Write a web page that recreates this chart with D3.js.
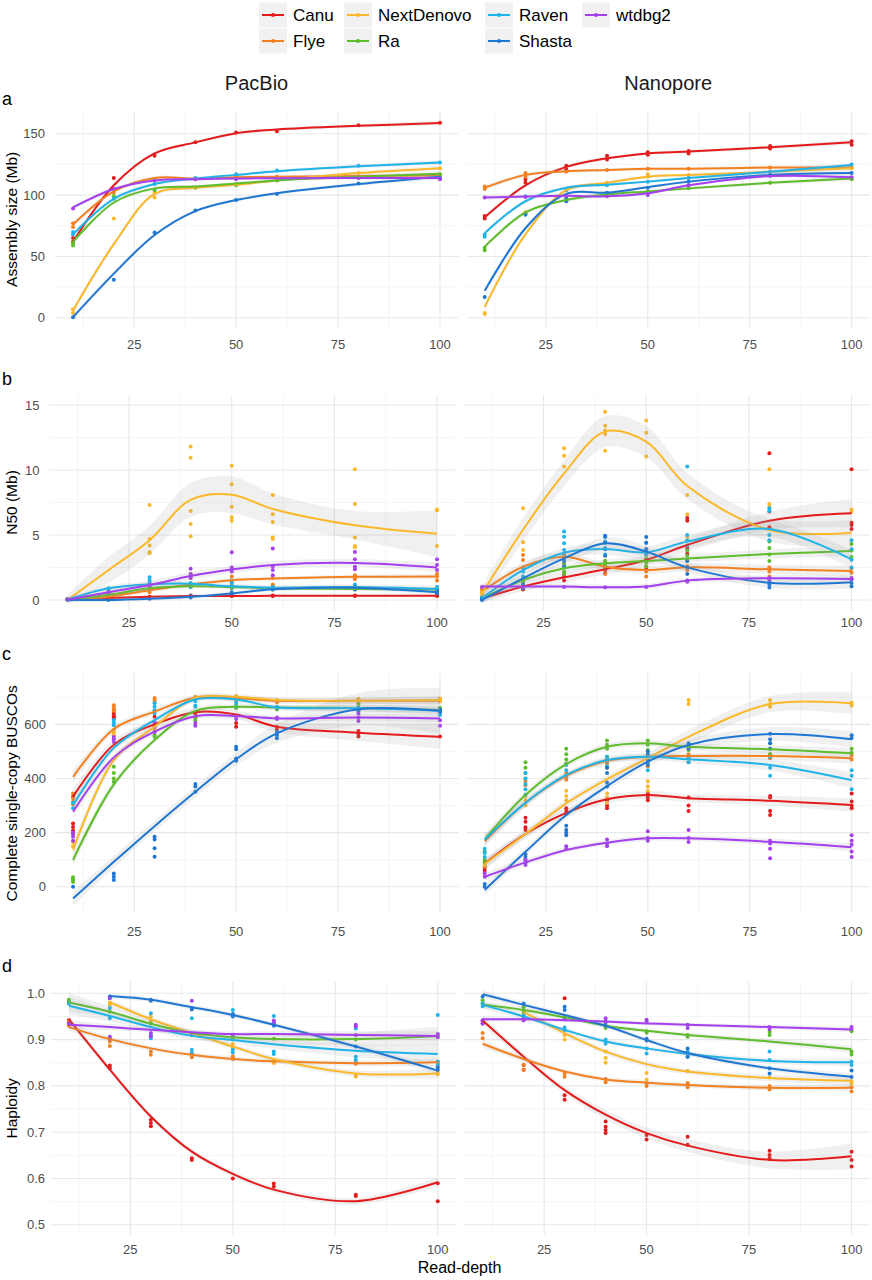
<!DOCTYPE html>
<html><head><meta charset="utf-8">
<script src="https://cdn.jsdelivr.net/npm/d3@7"></script>
<style>
body{margin:0;background:#fff;}
text{font-family:"Liberation Sans",Arial,Helvetica,sans-serif;}
</style>
</head><body>
<svg id="chart" width="872" height="1280"></svg>
<script>
// ---------------- DATA ----------------
const depths = [10, 20, 30, 40, 50, 60, 80, 100];
const assemblers = ["Canu", "Flye", "NextDenovo", "Ra", "Raven", "Shasta", "wtdbg2"];
const colors = ["#e41a1c", "#f5801f", "#fbb829", "#5dbd2a", "#1eb4ea", "#1f77d4", "#a53ff0"];
const platforms = ["PacBio", "Nanopore"];
const xTicks = [25, 50, 75, 100];
const xMinor = [12.5, 37.5, 62.5, 87.5];

// (a) Assembly size (Mb) - PacBio
const sizePacFit = [
  [62, 108, 134, 143, 150.5, 153.5, 156.5, 158.7],
  [76, 103, 114, 113.5, 114.5, 115, 115.5, 116],
  [6, 60, 101, 106, 108.5, 112, 118, 122],
  [62, 94, 105.5, 107, 109.5, 112, 115, 117.5],
  [68, 97, 109, 113.5, 116.5, 119.5, 123.5, 126.5],
  [0.5, 36, 67.5, 87, 96, 101.5, 109, 115],
  [90, 105, 112, 113, 113.5, 113.8, 114, 114]
];
const sizePacSe = [
  [2, 1.5, 1.5, 1.2, 1.2, 1.2, 1.5, 2],
  [2, 1.5, 1.5, 1.2, 1.2, 1.2, 1.5, 2],
  [2.5, 2, 1.5, 1.2, 1.2, 1.2, 1.5, 2],
  [2, 1.5, 1.5, 1.2, 1.2, 1.2, 1.5, 2],
  [2, 1.5, 1.5, 1.2, 1.2, 1.2, 1.5, 2],
  [2.5, 2, 1.5, 1.2, 1.2, 1.2, 1.5, 2],
  [2, 1.5, 1.5, 1.2, 1.2, 1.2, 1.5, 2]
];
const sizePacPts = [
  [[62, 65], [114], [132], [143], [151], [152], [157], [159]],
  [[74, 77], [102], [113], [113], [115], [115], [115], [116]],
  [[4, 7], [81], [98, 102], [106], [109], [112], [118], [122]],
  [[59, 61], [99], [104], [106], [108], [112], [115], [117]],
  [[68, 70], [97], [109], [114], [117], [120], [124], [126.5]],
  [[0.5], [31], [69.5], [87.5], [96], [101], [109.5], [114]],
  [[89], [105], [112], [113], [113], [114], [114], [113]]
];

// (a) Assembly size (Mb) - Nanopore
const sizeNanoFit = [
  [82, 108, 123, 130, 134, 135.5, 139, 143],
  [106, 116.5, 119.5, 120.5, 121.5, 121.5, 122.5, 122.5],
  [9, 68, 104, 110, 115, 116.5, 119, 122],
  [58, 86, 96, 100.5, 103, 105.5, 110, 113.5],
  [69, 95, 106, 108.5, 111, 114, 119, 124.5],
  [22, 73, 101, 102, 106.5, 111, 116.5, 118],
  [98, 98.8, 99.4, 99, 101.5, 108, 115.5, 114.5]
];
const sizeNanoSe = [
  [2, 1.5, 1.5, 1.2, 1.2, 1.2, 1.5, 2],
  [2, 1.5, 1.5, 1.2, 1.2, 1.2, 1.5, 2],
  [2.5, 2, 1.5, 1.2, 1.2, 1.2, 1.5, 2],
  [2, 1.5, 1.5, 1.2, 1.2, 1.2, 1.5, 2],
  [2, 1.5, 1.5, 1.2, 1.2, 1.2, 1.5, 2],
  [2.5, 2, 1.5, 1.2, 1.2, 1.2, 1.5, 2],
  [2, 1.5, 1.5, 1.2, 1.2, 1.2, 1.5, 2]
];
const sizeNanoPts = [
  [[81, 83], [110, 113], [121, 124], [129, 132], [133, 135], [134, 136], [138, 140], [141, 144]],
  [[105, 107], [115, 118], [119], [120.5], [121.5], [121.5], [122.5], [122.5]],
  [[3, 4], [86], [104], [110], [115, 117], [116.5], [119], [122]],
  [[55, 57], [85], [97], [101], [103], [105.5], [110], [113]],
  [[66, 68], [99], [104], [108], [111], [114], [119], [125]],
  [[17], [84], [95, 97], [102], [106], [111], [116.5], [118]],
  [[98], [98.5], [99.5], [99], [100], [108], [115.5], [114.5]]
];

// (b) N50 (Mb) - PacBio
const n50PacFit = [
  [0.02, 0.15, 0.25, 0.3, 0.3, 0.32, 0.33, 0.33],
  [0.02, 0.25, 0.75, 1.2, 1.52, 1.65, 1.78, 1.8],
  [0.0, 2.3, 4.6, 7.7, 8.1, 7.0, 5.75, 5.1],
  [0.02, 0.4, 0.9, 1.05, 1.0, 0.9, 0.85, 0.8],
  [0.02, 0.9, 1.2, 1.25, 1.05, 0.95, 1.0, 0.85],
  [0.0, 0.0, 0.1, 0.25, 0.5, 0.82, 0.95, 0.6],
  [0.02, 0.6, 1.15, 1.85, 2.35, 2.7, 2.85, 2.5]
];
const n50PacSe = [
  [0.1, 0.1, 0.1, 0.1, 0.1, 0.1, 0.1, 0.12],
  [0.15, 0.15, 0.15, 0.15, 0.15, 0.15, 0.15, 0.2],
  [0.4, 1.0, 1.1, 1.3, 1.4, 1.2, 1.1, 1.8],
  [0.15, 0.15, 0.15, 0.15, 0.15, 0.15, 0.15, 0.2],
  [0.2, 0.2, 0.2, 0.2, 0.2, 0.2, 0.2, 0.25],
  [0.15, 0.15, 0.15, 0.15, 0.15, 0.15, 0.15, 0.2],
  [0.2, 0.25, 0.3, 0.3, 0.3, 0.3, 0.3, 0.35]
];
const n50PacPts = [
  [[0.05], [0.15], [0.25], [0.3, 0.35], [0.3, 0.35], [0.3, 0.35], [0.3, 0.35], [0.3, 0.35]],
  [[0.05], [0.3, 0.2], [0.8, 0.6], [2.0, 1.7, 1.2], [1.8, 1.5, 1.3], [1.7, 1.2, 1.1], [1.9, 1.7, 1.6], [2.0, 1.8, 1.5]],
  [[0.05], [0.8, 0.5], [7.3, 4.7, 4.2, 3.7, 3.6], [11.8, 10.95, 6.85, 5.85, 4.9], [10.33, 8.9, 7.18, 6.36, 6.1], [8.08, 6.6, 6.0, 4.8, 4.7], [10.05, 7.38, 4.8, 4.15, 4.05], [6.97, 6.9, 4.15]],
  [[0.05], [0.5, 0.3], [1.0, 0.8], [1.1, 1.0], [1.1, 0.9], [1.0, 0.8], [0.9, 0.8], [0.9, 0.8]],
  [[0.05], [0.9, 0.7], [1.75, 1.5, 1.3, 1.1], [1.3, 1.0], [1.5, 1.3, 1.0], [1.0, 0.9], [1.2, 1.0, 0.9], [1.0, 0.8, 0.7]],
  [[0.0], [0.0, 0.05], [0.1], [0.2, 0.3], [0.4, 0.6], [0.8, 0.9], [1.0, 0.9, 0.8], [0.5, 0.7]],
  [[0.05], [0.6, 0.5], [1.2, 1.0], [2.4, 2.0, 1.7], [3.67, 2.5, 2.2], [3.97, 2.6, 2.3, 1.9], [3.7, 3.13, 2.56, 2.36], [3.13, 2.7, 2.3]]
];

// (b) N50 (Mb) - Nanopore
const n50NanoFit = [
  [0.13, 1.03, 1.74, 2.36, 3.08, 4.23, 6.1, 6.67],
  [0.64, 2.56, 3.33, 2.56, 2.3, 2.51, 2.36, 2.23],
  [0.5, 5.4, 9.74, 12.95, 12.18, 8.77, 5.38, 5.18],
  [0.1, 1.54, 2.44, 2.82, 3.0, 3.2, 3.54, 3.77],
  [0.13, 2.3, 3.64, 3.92, 3.67, 4.49, 5.46, 3.13],
  [0.0, 1.67, 3.2, 4.36, 3.72, 2.51, 1.33, 1.36],
  [1.03, 1.03, 1.03, 0.98, 1.03, 1.49, 1.67, 1.62]
];
const n50NanoSe = [
  [0.3, 0.35, 0.4, 0.4, 0.4, 0.5, 0.7, 1.1],
  [0.3, 0.35, 0.35, 0.3, 0.3, 0.3, 0.35, 0.4],
  [0.6, 0.9, 1.0, 1.2, 1.2, 1.0, 0.9, 1.0],
  [0.3, 0.3, 0.3, 0.3, 0.3, 0.3, 0.35, 0.4],
  [0.3, 0.4, 0.4, 0.45, 0.45, 0.5, 0.6, 0.7],
  [0.3, 0.4, 0.4, 0.45, 0.45, 0.4, 0.4, 0.5],
  [0.2, 0.2, 0.2, 0.2, 0.2, 0.2, 0.25, 0.3]
];
const n50NanoPts = [
  [[0.1, 0.2], [0.8, 1.0], [1.5, 1.8, 2.0], [2.05, 2.3, 2.6], [3.5, 3.0, 2.4], [6.3, 6.1, 4.0, 3.56], [11.28, 6.8, 5.59], [10.05, 5.95, 5.77, 5.46]],
  [[0.6, 0.8], [3.46, 3.08, 2.5], [3.5, 3.2, 2.8], [3.0, 2.5, 2.0], [2.6, 2.2, 1.8], [2.6, 2.3], [2.5, 2.2, 1.8], [2.4, 2.1]],
  [[0.4, 0.6], [7.05, 4.44, 3.85], [11.67, 11.1, 10.26], [14.49, 13.4, 13.03, 12.77, 11.49], [13.8, 12.87, 11.03], [8.08, 6.59, 4.87], [10.05, 7.38, 7.18], [6.97, 6.8]],
  [[0.1], [1.5, 1.3, 1.1], [2.8, 2.5, 2.2, 2.0], [3.0, 2.7, 2.4], [3.2, 2.9, 2.6], [3.8, 3.4, 3.0], [4.5, 4.0, 3.5, 3.0], [4.3, 3.8, 3.3]],
  [[0.1, 0.2], [2.5, 2.2, 1.8], [5.26, 4.87, 4.36, 3.85, 3.33], [4.9, 4.5, 4.0, 3.5], [4.4, 3.9, 3.5], [10.26, 5.0, 4.6, 4.2], [7.05, 6.85, 5.0, 4.6], [4.6, 3.9, 3.1, 2.5]],
  [[0.0, 0.05], [1.2, 0.9], [3.0, 2.6], [4.95, 4.85, 4.4, 3.9, 3.4], [4.85, 4.4, 3.9], [3.0, 2.5, 2.0], [1.4, 1.2, 0.97], [1.6, 1.3, 1.05]],
  [[1.0], [1.0], [1.0], [0.98], [1.0], [1.5, 1.4], [1.7, 1.6], [1.7, 1.6]]
];

// (c) Complete single-copy BUSCOs - PacBio
const buscoPacFit = [
  [333, 525, 600, 645, 636, 591, 569, 554],
  [406, 583, 647, 698, 696, 687, 687, 687],
  [136, 468, 591, 698, 702, 690, 687, 690],
  [99, 378, 542, 650, 665, 662, 660, 653],
  [302, 513, 616, 692, 692, 663, 660, 650],
  [-43, 92, 224, 351, 471, 567, 656, 650],
  [277, 478, 573, 630, 631, 622, 625, 622]
];
const buscoPacSe = [
  [28, 18, 15, 15, 16, 20, 30, 45],
  [24, 14, 11, 10, 10, 10, 12, 15],
  [24, 15, 11, 10, 10, 10, 12, 15],
  [24, 15, 11, 10, 10, 10, 12, 15],
  [24, 14, 11, 10, 10, 10, 12, 15],
  [28, 22, 20, 20, 24, 35, 60, 85],
  [24, 14, 11, 10, 10, 10, 12, 15]
];
const buscoPacPts = [
  [[333, 234, 221, 208, 196], [653, 640, 630, 623], [628, 605], [640, 625], [591, 605], [590, 580], [575, 565, 555], [555]],
  [[345, 327, 314, 305], [671, 660, 650], [697, 690, 683], [702, 694], [694, 690], [688, 682], [690, 680], [695, 685]],
  [[165, 150], [579, 570, 560], [595, 580], [702], [705], [690], [695, 685], [695, 685]],
  [[35, 28, 22, 18], [443, 420, 400, 387], [560, 554], [615, 625], [660, 670], [655, 660], [660, 675], [650, 660]],
  [[310, 290], [616, 606, 597], [678, 665, 652, 641], [685, 670, 665], [680, 665], [665, 660], [660, 650], [650, 635]],
  [[0], [49, 37, 25], [185, 175, 142, 111], [380, 370, 351], [517, 508, 474, 466], [573, 560, 549], [650, 660], [655, 645]],
  [[200, 185, 170], [553, 545, 535], [608, 590, 572], [605, 595], [630, 620], [625, 620], [640, 625, 612], [615, 595]]
];

// (c) Complete single-copy BUSCOs - Nanopore
const buscoNanoFit = [
  [86, 195, 273, 323, 339, 327, 318, 302],
  [168, 310, 410, 465, 480, 483, 483, 475],
  [84, 195, 308, 397, 475, 554, 675, 678],
  [175, 339, 453, 517, 530, 517, 508, 493],
  [174, 310, 413, 468, 480, 471, 450, 394],
  [-12, 129, 265, 372, 462, 524, 564, 545],
  [37, 90, 136, 163, 179, 179, 166, 146]
];
const buscoNanoSe = [
  [20, 15, 15, 15, 15, 15, 18, 25],
  [20, 15, 12, 12, 12, 12, 15, 20],
  [20, 15, 15, 15, 18, 25, 30, 40],
  [20, 15, 12, 12, 12, 12, 15, 20],
  [20, 15, 12, 12, 12, 15, 20, 30],
  [20, 15, 15, 15, 18, 20, 25, 30],
  [15, 12, 10, 10, 10, 10, 12, 15]
];
const buscoNanoPts = [
  [[70, 60], [255, 240, 220, 210], [290, 280, 270], [320, 300, 290], [345, 330, 320], [330, 300, 280], [335, 330, 280, 265], [345, 315, 300, 290]],
  [[90, 75], [390, 375], [420, 405, 395], [470, 455, 440], [460, 445], [490, 475, 460], [490, 475], [485, 470]],
  [[95, 80], [335, 320, 300], [355, 335, 320], [345, 330, 310], [390, 370, 355], [690, 675], [690, 675, 665], [680, 670]],
  [[130, 100, 90], [460, 440, 420, 400], [510, 490, 470, 455], [540, 525, 510, 480], [540, 525, 505], [520, 505], [530, 510, 490], [510, 495]],
  [[140, 125, 110], [420, 400, 380, 360, 340], [450, 430, 410], [480, 465, 445], [480, 460, 430], [480, 460], [480, 440, 410], [430, 410, 360]],
  [[10, 0], [120, 110, 100, 90], [225, 210, 200, 190], [440, 420, 385, 370], [500, 490, 470, 450], [530, 520, 510], [565, 545, 530, 510], [560, 550]],
  [[50, 37], [100, 90, 80], [150, 140], [175, 160, 150], [205, 180, 170], [210, 180, 165], [170, 160, 140, 105], [190, 170, 155, 130, 110]]
];

// (d) Haploidy - PacBio
const haploPacFit = [
  [0.944, 0.835, 0.734, 0.658, 0.610, 0.576, 0.551, 0.592],
  [0.927, 0.901, 0.881, 0.867, 0.858, 0.853, 0.849, 0.851],
  [null, 0.980, 0.944, 0.914, 0.885, 0.858, 0.827, 0.827],
  [0.980, 0.960, 0.934, 0.914, 0.905, 0.901, 0.901, 0.908],
  [0.973, 0.951, 0.927, 0.908, 0.899, 0.890, 0.876, 0.869],
  [null, 0.994, 0.986, 0.970, 0.953, 0.932, 0.885, 0.833],
  [0.932, 0.927, 0.921, 0.916, 0.912, 0.912, 0.910, 0.908]
];
const haploPacSe = [
  [0.008, 0.006, 0.006, 0.006, 0.006, 0.006, 0.007, 0.01],
  [0.008, 0.006, 0.005, 0.005, 0.005, 0.005, 0.006, 0.008],
  [null, 0.008, 0.006, 0.006, 0.006, 0.006, 0.007, 0.01],
  [0.02, 0.012, 0.008, 0.008, 0.008, 0.01, 0.014, 0.02],
  [0.02, 0.012, 0.008, 0.008, 0.008, 0.01, 0.014, 0.02],
  [null, 0.006, 0.005, 0.005, 0.005, 0.005, 0.006, 0.008],
  [0.01, 0.007, 0.005, 0.005, 0.005, 0.006, 0.008, 0.01]
];
const haploPacPts = [
  [[0.942, 0.937], [0.844, 0.838], [0.727, 0.72, 0.713], [0.644, 0.64], [0.6], [0.589, 0.582], [0.565, 0.562], [0.59, 0.551]],
  [[0.939, 0.93], [0.896, 0.886], [0.874, 0.867], [0.87, 0.862], [0.864, 0.858], [0.853, 0.85], [0.851, 0.848], [0.852, 0.848]],
  [[], [0.98, 0.975], [0.95, 0.94], [0.91], [0.89, 0.882], [0.856, 0.85], [0.824, 0.82], [0.83, 0.825]],
  [[0.986, 0.982], [0.96], [0.935], [0.912], [0.905, 0.9], [0.902], [0.9], [0.91]],
  [[0.978], [0.968, 0.946], [0.957, 0.91, 0.903], [0.946, 0.878, 0.871], [0.964, 0.953, 0.878, 0.872], [0.951, 0.874, 0.869], [0.924, 0.863, 0.856], [0.953, 0.852, 0.845]],
  [[], [0.993, 0.99], [0.986, 0.984], [0.968, 0.965], [0.955, 0.95], [0.935, 0.93], [0.885], [0.84, 0.835]],
  [[0.935], [0.99, 0.906, 0.902], [0.914, 0.907], [0.984, 0.91], [0.91], [0.941, 0.937], [0.932, 0.928, 0.91], [0.912, 0.905]]
];

// (d) Haploidy - Nanopore
const haploNanoFit = [
  [0.941, 0.863, 0.791, 0.738, 0.698, 0.671, 0.640, 0.648],
  [0.891, 0.858, 0.831, 0.814, 0.807, 0.802, 0.796, 0.796],
  [null, 0.960, 0.914, 0.874, 0.847, 0.831, 0.817, 0.811],
  [0.975, 0.964, 0.948, 0.930, 0.919, 0.910, 0.896, 0.879],
  [0.975, 0.950, 0.921, 0.896, 0.881, 0.869, 0.854, 0.851],
  [0.998, 0.975, 0.953, 0.930, 0.899, 0.871, 0.838, 0.820],
  [0.944, 0.944, 0.942, 0.939, 0.935, 0.932, 0.927, 0.922]
];
const haploNanoSe = [
  [0.01, 0.008, 0.008, 0.01, 0.012, 0.014, 0.018, 0.028],
  [0.008, 0.006, 0.005, 0.005, 0.005, 0.005, 0.006, 0.008],
  [null, 0.008, 0.006, 0.006, 0.006, 0.006, 0.007, 0.01],
  [0.008, 0.006, 0.005, 0.005, 0.005, 0.005, 0.006, 0.008],
  [0.008, 0.006, 0.005, 0.005, 0.005, 0.005, 0.006, 0.008],
  [0.008, 0.006, 0.005, 0.005, 0.005, 0.005, 0.006, 0.008],
  [0.006, 0.005, 0.004, 0.004, 0.004, 0.004, 0.005, 0.006]
];
const haploNanoPts = [
  [[0.94, 0.935], [0.845, 0.835], [0.989, 0.78, 0.77], [0.723, 0.712, 0.705, 0.698], [0.694, 0.684], [0.69, 0.673], [0.66, 0.651, 0.644], [0.658, 0.64, 0.626]],
  [[0.914, 0.903], [0.845, 0.835], [0.827, 0.82], [0.815, 0.808], [0.806, 0.8], [0.806, 0.797], [0.8, 0.792], [0.797, 0.788]],
  [[], [0.962, 0.955], [0.91, 0.9], [0.874, 0.86, 0.85], [0.828, 0.813], [0.832], [0.818], [0.81, 0.805]],
  [[0.985, 0.978], [0.97, 0.96], [0.948], [0.93, 0.925], [0.918, 0.915], [0.91, 0.906], [0.917, 0.91], [0.918, 0.874, 0.868]],
  [[0.978, 0.972], [0.952, 0.95], [0.926, 0.92], [0.9, 0.891], [0.881, 0.87], [0.874, 0.863], [0.874, 0.856], [0.852, 0.845]],
  [[0.993], [0.978], [0.971, 0.964], [0.937, 0.93], [0.902, 0.898], [0.881, 0.863], [0.838, 0.827], [0.833, 0.819]],
  [[0.942, 0.935], [0.946, 0.941], [0.944], [0.946, 0.939], [0.943, 0.939], [0.932, 0.925], [0.927, 0.923], [0.927, 0.923]]
];

// y-axis ticks per row
const sizeTicks = [0, 50, 100, 150];
const n50Ticks = [0, 5, 10, 15];
const buscoTicks = [0, 200, 400, 600];
const haploTicks = [0.5, 0.6, 0.7, 0.8, 0.9, 1.0];

// ---------------- LAYOUT ----------------
const svg = d3.select("#chart");
const rightEdge = 870, gap = 8;

const rows = [
  {letter: "a", title: "Assembly size (Mb)", top: 111.7, bottom: 327, dom: [-7.5, 168], L: 54.7, ticks: sizeTicks, fmt: d3.format("d"), tickX: 45, labY: 344, letY: 105,
   data: [[sizePacFit, sizePacSe, sizePacPts], [sizeNanoFit, sizeNanoSe, sizeNanoPts]]},
  {letter: "b", title: "N50 (Mb)", top: 395, bottom: 610, dom: [-0.77, 15.77], L: 49, ticks: n50Ticks, fmt: d3.format("d"), tickX: 39.5, labY: 622.5, letY: 385,
   data: [[n50PacFit, n50PacSe, n50PacPts], [n50NanoFit, n50NanoSe, n50NanoPts]]},
  {letter: "c", title: "Complete single-copy BUSCOs", top: 673.3, bottom: 913.3, dom: [-98, 788.6], L: 54.7, ticks: buscoTicks, fmt: d3.format("d"), tickX: 46, labY: 931.5, letY: 660,
   data: [[buscoPacFit, buscoPacSe, buscoPacPts], [buscoNanoFit, buscoNanoSe, buscoNanoPts]]},
  {letter: "d", title: "Haploidy", top: 981.7, bottom: 1235, dom: [0.478, 1.025], L: 50.4, ticks: haploTicks, fmt: d3.format(".1f"), tickX: 45, labY: 1249, letY: 972,
   data: [[haploPacFit, haploPacSe, haploPacPts], [haploNanoFit, haploNanoSe, haploNanoPts]]}
];

const defs = svg.append("defs");

rows.forEach((r, ri) => {
  const W = (rightEdge - r.L - gap) / 2;
  const y = d3.scaleLinear().domain(r.dom).range([r.bottom, r.top]);
  const step = r.ticks[1] - r.ticks[0];
  const yMinor = [];
  for (let i = 0; i < r.ticks.length + 1; i++) {
    const v = r.ticks[0] - step / 2 + i * step;
    if (v > r.dom[0] && v < r.dom[1]) yMinor.push(v);
  }

  [0, 1].forEach(ci => {
    const x0 = ci === 0 ? r.L : r.L + W + gap;
    const x = d3.scaleLinear().domain([5.5, 104.5]).range([x0, x0 + W]);
    const g = svg.append("g");
    const clipId = `clip${ri}${ci}`;
    defs.append("clipPath").attr("id", clipId).append("rect")
      .attr("x", x0).attr("y", r.top).attr("width", W).attr("height", r.bottom - r.top);

    // grid
    g.selectAll(".ymin").data(yMinor).join("line")
      .attr("x1", x0).attr("x2", x0 + W).attr("y1", d => y(d)).attr("y2", d => y(d))
      .attr("stroke", "#efefef").attr("stroke-width", 0.6);
    g.selectAll(".xmin").data(xMinor).join("line")
      .attr("y1", r.top).attr("y2", r.bottom).attr("x1", d => x(d)).attr("x2", d => x(d))
      .attr("stroke", "#efefef").attr("stroke-width", 0.6);
    g.selectAll(".ymaj").data(r.ticks).join("line")
      .attr("x1", x0).attr("x2", x0 + W).attr("y1", d => y(d)).attr("y2", d => y(d))
      .attr("stroke", "#e8e8e8").attr("stroke-width", 1.1);
    g.selectAll(".xmaj").data(xTicks).join("line")
      .attr("y1", r.top).attr("y2", r.bottom).attr("x1", d => x(d)).attr("x2", d => x(d))
      .attr("stroke", "#e8e8e8").attr("stroke-width", 1.1);

    // x tick labels
    g.selectAll(".xl").data(xTicks).join("text")
      .attr("x", d => x(d)).attr("y", r.labY).attr("dy", "0.35em")
      .attr("text-anchor", "middle").attr("font-size", 13).attr("fill", "#4d4d4d")
      .text(d => d);

    // y tick labels (left only)
    if (ci === 0) {
      g.selectAll(".yl").data(r.ticks).join("text")
        .attr("x", r.tickX).attr("y", d => y(d)).attr("dy", "0.35em")
        .attr("text-anchor", "end").attr("font-size", 13).attr("fill", "#4d4d4d")
        .text(d => r.fmt(d));
    }

    const [fit, se, pts] = r.data[ci];
    const plot = g.append("g").attr("clip-path", `url(#${clipId})`);

    // points
    assemblers.forEach((a, ai) => {
      const flat = [];
      pts[ai].forEach((vals, di) => vals.forEach(v => flat.push([depths[di], v])));
      plot.append("g").selectAll("circle").data(flat).join("circle")
        .attr("cx", d => x(d[0])).attr("cy", d => y(d[1])).attr("r", 2)
        .attr("fill", colors[ai]);
    });

    // smooth ribbons + lines
    const curve = d3.curveCatmullRom.alpha(0.5);
    const line = d3.line().x(d => x(d[0])).y(d => y(d[1])).curve(curve);
    const area = d3.area().x(d => x(d[0])).y0(d => y(d[1] - d[2])).y1(d => y(d[1] + d[2])).curve(curve);
    assemblers.forEach((a, ai) => {
      const dd = depths.map((d, i) => [d, fit[ai][i], se[ai][i]]).filter(d => d[1] != null);
      plot.append("path").datum(dd).attr("d", area)
        .attr("fill", "#999999").attr("fill-opacity", 0.15);
      plot.append("path").datum(dd).attr("d", line)
        .attr("fill", "none").attr("stroke", colors[ai]).attr("stroke-width", 2);
    });

    if (ri === 0) {
      svg.append("text").attr("x", x0 + W / 2).attr("y", 90)
        .attr("text-anchor", "middle").attr("font-size", 20).attr("fill", "#1a1a1a")
        .text(platforms[ci]);
    }
  });

  // row letter
  svg.append("text").attr("x", 2).attr("y", r.letY)
    .attr("font-size", 18).attr("fill", "#000").text(r.letter);
  // y title
  const cy = (r.top + r.bottom) / 2;
  svg.append("text").attr("transform", `translate(17,${cy}) rotate(-90)`)
    .attr("text-anchor", "middle").attr("font-size", 15.5).attr("fill", "#000")
    .text(r.title);
});

// x title
svg.append("text").attr("x", 459.5).attr("y", 1273)
  .attr("text-anchor", "middle").attr("font-size", 16).attr("fill", "#000").text("Read-depth");

// ---------------- LEGEND ----------------
const legCols = [259, 344, 485, 582];
const legRows = [15, 41];
const lg = svg.append("g");
assemblers.forEach((a, i) => {
  const col = Math.floor(i / 2), row = i % 2;
  const kx = legCols[col], cyv = legRows[row];
  lg.append("rect").attr("x", kx).attr("y", cyv - 12.5).attr("width", 28).attr("height", 25)
    .attr("fill", "#999999").attr("fill-opacity", 0.14);
  lg.append("line").attr("x1", kx + 3).attr("x2", kx + 25).attr("y1", cyv).attr("y2", cyv)
    .attr("stroke", colors[i]).attr("stroke-width", 2);
  lg.append("circle").attr("cx", kx + 14).attr("cy", cyv).attr("r", 2).attr("fill", colors[i]);
  lg.append("text").attr("x", kx + 34).attr("y", cyv).attr("dy", "0.36em")
    .attr("font-size", 17).attr("fill", "#000").text(a);
});
</script>
</body></html>
